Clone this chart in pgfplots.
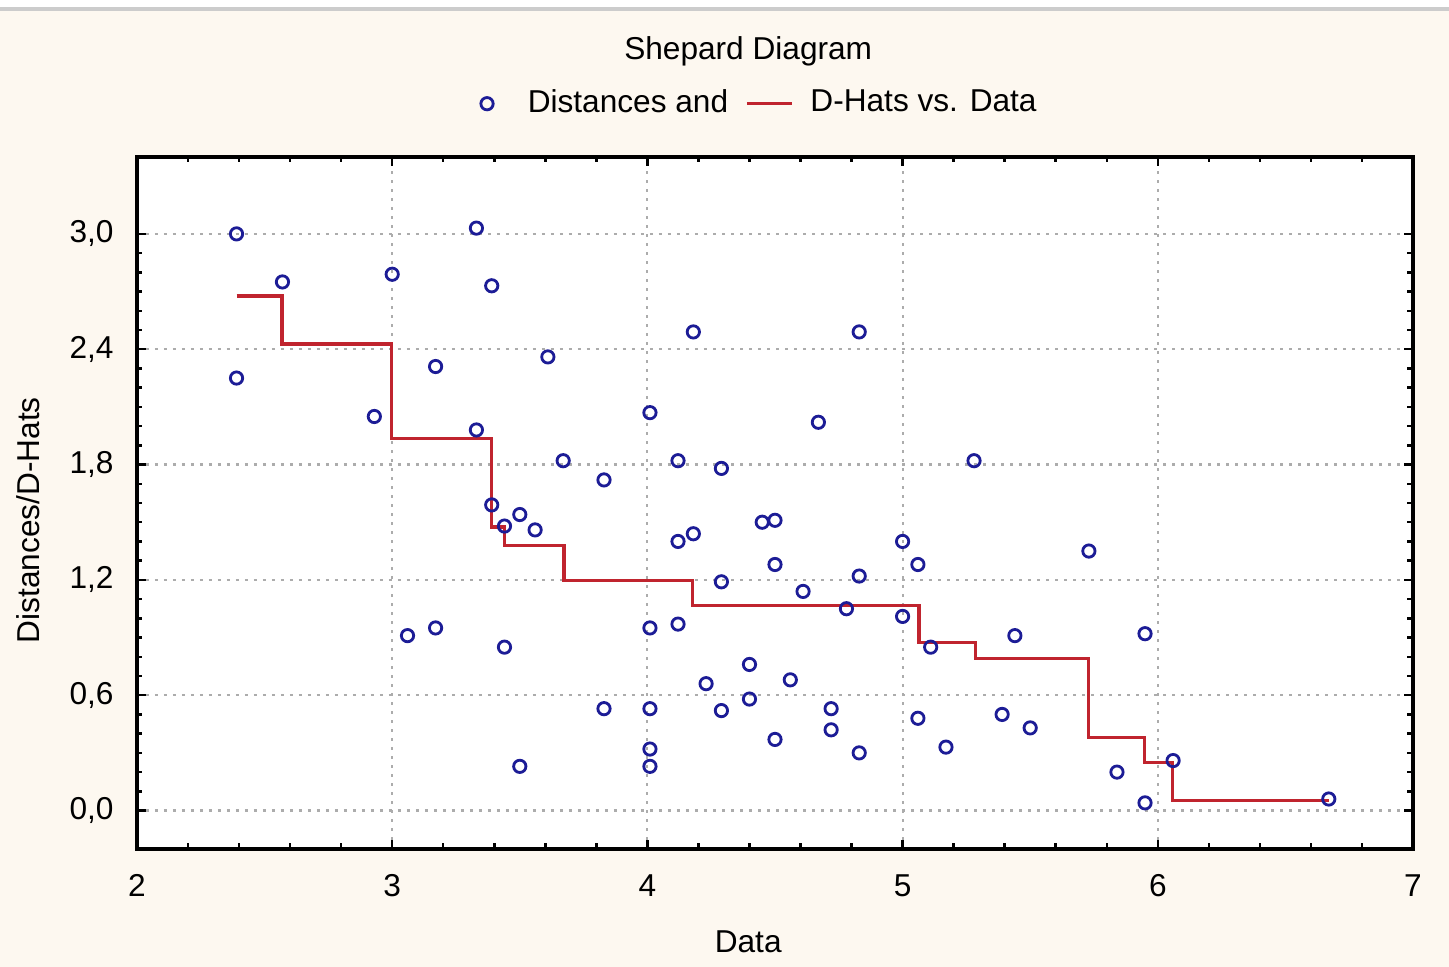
\documentclass[border=0pt]{standalone}
\usepackage{fontspec}
\setmainfont{Liberation Sans}
\usepackage{pgfplots}
\pgfplotsset{compat=1.18}
\definecolor{bgcream}{RGB}{253,248,240}
\definecolor{ptblue}{RGB}{28,28,150}
\definecolor{stepred}{RGB}{192,36,46}
\pgfplotsset{
  dotlegend/.style={legend image code/.code={\path (0.48cm,0cm); \draw[mark repeat=2, mark phase=2, ##1] plot coordinates {(-0.15cm,0cm) (0.15cm,0cm) (0.45cm,0cm)};}},
  linelegend/.style={legend image code/.code={\path (0.55cm,0cm); \draw[##1] (0cm,0cm) -- (0.45cm,0cm);}},
}
\begin{document}
\begin{tikzpicture}[font=\fontsize{9}{11}\selectfont]
\useasboundingbox (-13.7mm,-11.8mm) rectangle (131.2mm,84.9mm);
\fill[bgcream] (-13.7mm,-11.8mm) rectangle (131.2mm,84.9mm);
\fill[white] (-13.7mm,84.1mm) rectangle (131.2mm,84.9mm);
\fill[gray!40] (-13.7mm,83.8mm) rectangle (131.2mm,84.2mm);
\begin{axis}[
    at={(0,0)}, anchor=south west,
    scale only axis, width=127.6mm, height=69.2mm,
    xmin=2, xmax=7, ymin=-0.2, ymax=3.4,
    xtick={2,3,4,5,6,7},
    ytick={0,0.6,1.2,1.8,2.4,3.0},
    minor x tick num=4,
    minor y tick num=5,
    xtick pos=both, ytick pos=both,
    tick align=inside,
    major tick length=0.9mm, minor tick length=0.55mm,
    every tick/.style={black, line width=0.7pt},
    axis line style={black, line width=1pt},
    axis background/.style={fill=white},
    grid=major,
    major grid style={gray!65, line width=0.6pt, dash pattern=on 0.3mm off 0.6mm},
    /pgf/number format/assume math mode=true,
    xticklabel style={yshift=-1.3mm},
    yticklabel style={xshift=-1.1mm, /pgf/number format/.cd, fixed, fixed zerofill, precision=1, use comma},
    title={Shepard Diagram},
    title style={at={(0.479,1.122)}, anchor=center},
    xlabel={Data},
    xlabel style={at={(0.479,-0.134)}, anchor=center},
    ylabel={Distances/D-Hats},
    ylabel style={at={(-0.085,0.475)}, anchor=center},
    legend style={at={(0.49,1.077)}, anchor=center, draw=none, fill=none,
        legend columns=2, /tikz/every even column/.append style={column sep=1mm}},
    legend cell align=left,
]
\addplot[only marks, mark=o, mark size=1.75pt, mark options={ptblue, line width=0.8pt}, dotlegend] table {
x y
2.39 3.00
2.39 2.25
2.57 2.75
3.00 2.79
2.93 2.05
3.17 2.31
3.33 3.03
3.39 2.73
3.33 1.98
3.61 2.36
3.39 1.59
3.44 1.48
3.50 1.54
3.56 1.46
3.67 1.82
3.83 1.72
3.06 0.91
3.17 0.95
3.44 0.85
3.50 0.23
3.83 0.53
4.01 2.07
4.18 2.49
4.83 2.49
4.12 1.82
4.29 1.78
4.67 2.02
4.12 1.40
4.18 1.44
4.45 1.50
4.50 1.51
4.50 1.28
4.29 1.19
4.61 1.14
4.83 1.22
4.78 1.05
4.01 0.95
4.12 0.97
4.23 0.66
4.40 0.76
4.56 0.68
4.29 0.52
4.40 0.58
4.01 0.53
4.01 0.32
4.01 0.23
4.50 0.37
4.72 0.53
4.72 0.42
4.83 0.30
5.00 1.40
5.06 1.28
5.00 1.01
5.11 0.85
5.28 1.82
5.06 0.48
5.17 0.33
5.44 0.91
5.39 0.50
5.50 0.43
5.73 1.35
5.95 0.92
5.84 0.20
5.95 0.04
6.06 0.26
6.67 0.06
};
\addlegendentry{Distances and}
\addplot[const plot mark left, no marks, stepred, line width=0.9pt, linelegend] table {
x y
2.39 2.677
2.568 2.427
2.998 1.936
3.39 1.475
3.44 1.38
3.673 1.198
4.178 1.068
5.064 0.873
5.286 0.79
5.728 0.382
5.947 0.248
6.058 0.054
6.67 0.054
};
\addlegendentry{D-Hats vs. Data}
\end{axis}
\end{tikzpicture}
\end{document}
